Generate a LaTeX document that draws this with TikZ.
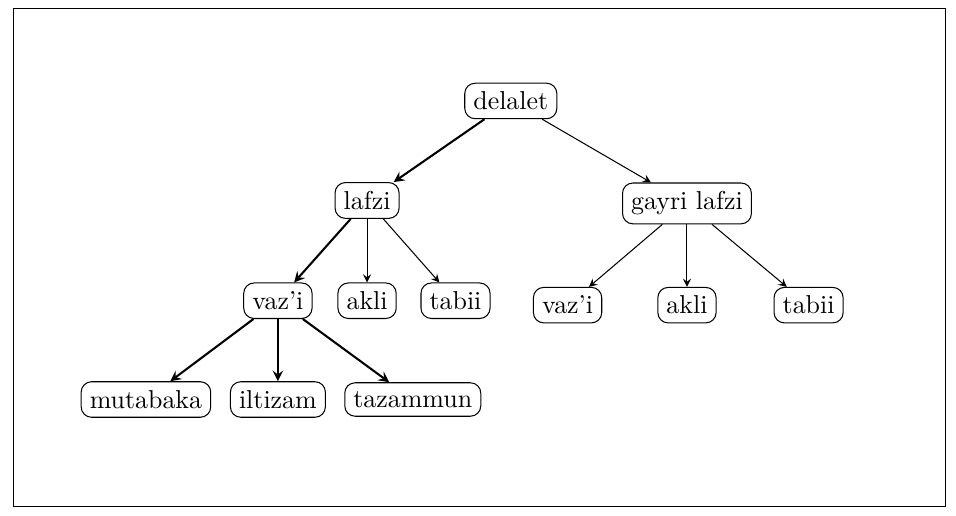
\documentclass[tikz,border=0pt]{standalone}
\usepackage{amsmath}

\begin{document}
\begin{tikzpicture}[>=stealth,
    kutu/.style={draw, rounded corners=4pt, inner sep=3.33pt},
    kalin/.style={->, thick},
    ince/.style={->}]
    % cerceve
    \useasboundingbox (0,0) rectangle (12.97,6.99);
    \draw (0.18,0.12) rectangle (12.83,6.87);

    % ust seviye
    \node[kutu] (delalet) at (6.93,5.62) {delalet};

    % ikinci seviye
    \node[kutu] (lafzi) at (4.98,4.27) {lafzi};
    \node[kutu] (gayri) at (9.32,4.23) {gayri lafzi};

    % lafzi alt dallari
    \node[kutu] (vaziL) at (3.77,2.91) {vaz'i};
    \node[kutu] (akliL) at (4.98,2.91) {akli};
    \node[kutu] (tabiiL) at (6.18,2.91) {tabii};

    % gayri lafzi alt dallari
    \node[kutu] (vaziR) at (7.70,2.85) {vaz'i};
    \node[kutu] (akliR) at (9.32,2.85) {akli};
    \node[kutu] (tabiiR) at (10.97,2.85) {tabii};

    % vaz'i alt dallari
    \node[kutu] (mutabaka) at (1.98,1.57) {mutabaka};
    \node[kutu] (iltizam) at (3.77,1.57) {iltizam};
    \node[kutu] (tazammun) at (5.60,1.57) {tazammun};

    % oklar
    \draw[kalin] (delalet) -- (lafzi);
    \draw[ince] (delalet) -- (gayri);
    \draw[kalin] (lafzi) -- (vaziL);
    \draw[ince] (lafzi) -- (akliL);
    \draw[ince] (lafzi) -- (tabiiL);
    \draw[ince] (gayri) -- (vaziR);
    \draw[ince] (gayri) -- (akliR);
    \draw[ince] (gayri) -- (tabiiR);
    \draw[kalin] (vaziL) -- (mutabaka);
    \draw[kalin] (vaziL) -- (iltizam);
    \draw[kalin] (vaziL) -- (tazammun);
\end{tikzpicture}
\end{document}
